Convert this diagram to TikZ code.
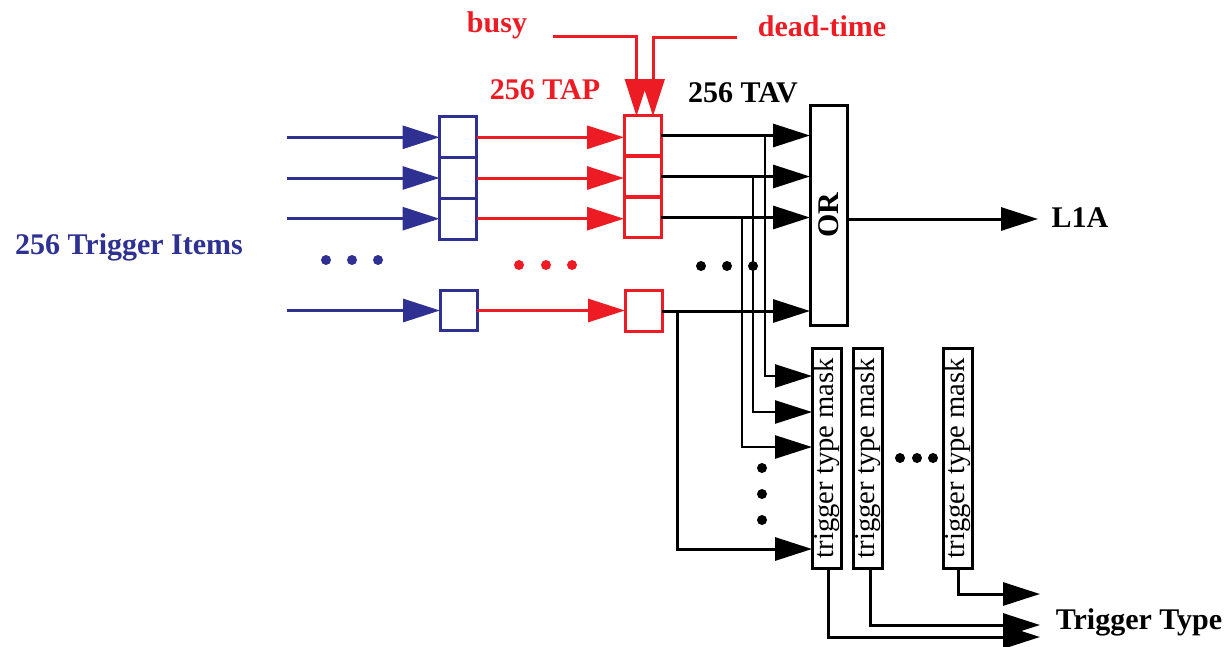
\documentclass[tikz,border=0pt]{standalone}
\usepackage{fontspec}
\setmainfont{Liberation Serif}
\usetikzlibrary{arrows.meta,calc}
\definecolor{tblue}{HTML}{2E3192}
\definecolor{tred}{HTML}{ED1C24}
\begin{document}
\begin{tikzpicture}[x=1pt,y=-1pt,
  cell/.style={draw, line width=3pt, minimum width=37pt, minimum height=40.7pt, inner sep=0pt, outer sep=0pt},
  arr/.style={line width=3pt, -{Triangle[length=37pt,width=23pt]}},
  tap/.style={line width=2.5pt, -{Triangle[length=37pt,width=23pt]}},
  mask/.style={draw, line width=3pt, minimum width=29pt, minimum height=220pt, inner sep=0pt, outer sep=0pt,
    font=\fontsize{28.6}{30}\selectfont},
  lbl/.style={font=\fontsize{30}{33}\selectfont\bfseries, inner sep=0pt},
  dot/.style={radius=5pt}]
\useasboundingbox (0,0) rectangle (1226,646);

% labels
\node[lbl, text=tblue] (items) at (129,247) {256 Trigger Items};
\node[lbl, text=tred] (busyl) at (497,25) {busy};
\node[lbl, text=tred] (deadl) at (822,26) {dead-time};
\node[lbl, text=tred] (tapl) at (545,90) {256 TAP};
\node[lbl] (tavl) at (743,93) {256 TAV};
\node[lbl] (l1al) at (1080,218) {L1A};
\node[lbl] (ttl) at (1139,622) {Trigger Type};

% blue cells
\node[cell, draw=tblue] (b1) at (458,137.3) {};
\node[cell, draw=tblue] (b2) at (458,178) {};
\node[cell, draw=tblue] (b3) at (458,218.7) {};
\node[cell, draw=tblue] (bN) at (458.5,310.5) {};

% red cells
\node[cell, draw=tred] (r1) at (642.5,135.5) {};
\node[cell, draw=tred] (r2) at (642.5,176.5) {};
\node[cell, draw=tred] (r3) at (642.5,217.5) {};
\node[cell, draw=tred] (rN) at (643.5,311) {};

% OR
\node[draw, line width=3pt, minimum width=37pt, minimum height=220pt, inner sep=0pt, outer sep=0pt] (OR) at (828.5,215)
  {\rotatebox{90}{\fontsize{30}{33}\selectfont\bfseries OR}};

% masks
\node[mask] (m1) at (826.5,458) {\rotatebox{90}{trigger type mask}};
\node[mask] (m2) at (868,458) {\rotatebox{90}{trigger type mask}};
\node[mask] (m3) at (958,458) {\rotatebox{90}{trigger type mask}};

% inputs
\coordinate (i1) at (287,137.3);
\coordinate (i2) at (287,178);
\coordinate (i3) at (287,218.7);
\coordinate (iN) at (287,310.5);
\foreach \k in {1,2,3,N}{
  \draw[arr, tblue] (i\k) -- (b\k.west);
  \draw[arr, tred] (b\k.east) -- (r\k.west |- b\k.east);
  \draw[arr] (r\k.east) -- (OR.west |- r\k.east);
}

% busy / dead-time
\coordinate (busy0) at (553,36);
\coordinate (dead0) at (737,37);
\draw[arr, tred] (busy0) -| ([xshift=-6pt,yshift=-1pt]r1.north);
\draw[arr, tred] (dead0) -| ([xshift=10.5pt,yshift=-1pt]r1.north);

% taps to mask
\path (r1.east) ++(104,0) coordinate (t1);
\path (r2.east) ++(92,0) coordinate (t2);
\path (r3.east) ++(81,0) coordinate (t3);
\path (rN.east) ++(15,0) coordinate (tN);
\draw[tap] (t1) |- ([yshift=-28pt]m1.north west);
\draw[tap] (t2) |- ([yshift=-64pt]m1.north west);
\draw[tap] (t3) |- ([yshift=-99pt]m1.north west);
\draw[arr] (tN) |- ([yshift=-201pt]m1.north west);

% L1A
\coordinate (l1a) at (1038,219);
\draw[arr] (OR.east |- l1a) -- (l1a);

% trigger type outputs
\coordinate (o1) at (1040,637);
\coordinate (o2) at (1040,625);
\coordinate (o3) at (1040,594);
\draw[arr] ([xshift=1.5pt]m1.south) |- (o1);
\draw[arr] ([xshift=2pt]m2.south) |- (o2);
\draw[arr] (m3.south) |- (o3);

% dots
\fill[tblue] (326,260) circle[dot] (352,260) circle[dot] (378,260) circle[dot];
\fill[tred] (519,265) circle[dot] (546,265) circle[dot] (572,265) circle[dot];
\fill (701,266) circle[dot] (727,266) circle[dot] (753,266) circle[dot];
\fill (762,468) circle[dot] (762,494) circle[dot] (762,520) circle[dot];
\fill (900,458) circle[dot] (917,458) circle[dot] (933,458) circle[dot];
\end{tikzpicture}
\end{document}
